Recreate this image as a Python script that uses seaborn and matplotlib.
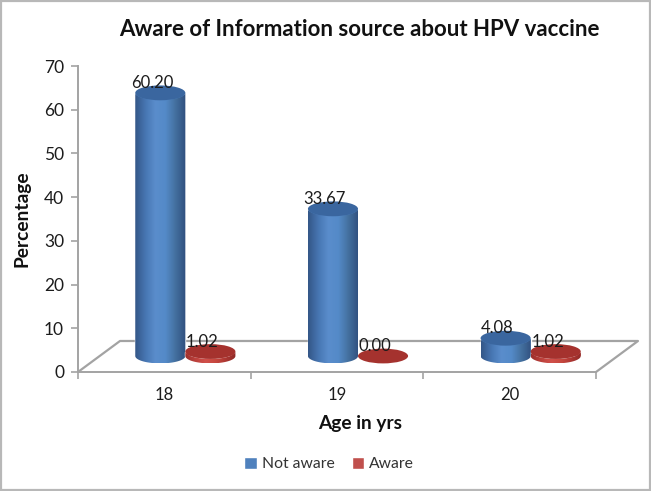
import numpy as np
import pandas as pd
import matplotlib
matplotlib.use("Agg")
import matplotlib.pyplot as plt
import seaborn as sns
from matplotlib.colors import LinearSegmentedColormap
from matplotlib.patches import Ellipse, Rectangle
from matplotlib.path import Path
from matplotlib.transforms import ScaledTranslation

# ===================== DATA =====================
ages = ["18", "19", "20"]
not_aware = [60.20, 33.67, 4.08]
aware = [1.02, 0.00, 1.02]
y_ticks = [0, 10, 20, 30, 40, 50, 60, 70]

# ===================== STYLE =====================
GRAY = "#a3a3a3"
TEXT = "#1c1c1c"
BLUE_RAMP = ["#345788", "#4776b2", "#5a8dcc", "#548ac8", "#44709f", "#30507f"]
RED_RAMP = ["#9c2f2c", "#bc413c", "#d0504b", "#c7483f", "#ad3733", "#8f2a27"]
BLUE_TOP = "#3a669f"
RED_TOP = "#a5322e"

sns.set_style("white")
plt.rcParams["font.family"] = ["Lato", "DejaVu Sans"]

fig = plt.figure(figsize=(6.51, 4.91), dpi=100)
ax = fig.add_axes([78 / 651, 1 - 372 / 491, 518 / 651, 306 / 491])

df = pd.DataFrame({
    "age": ages * 2,
    "pct": not_aware + aware,
    "status": ["Not aware"] * 3 + ["Aware"] * 3,
})

sns.barplot(data=df, x="age", y="pct", hue="status",
            palette=["#4f81bd", "#c0504d"], saturation=1, width=0.58, gap=0,
            errorbar=None, ax=ax)
ax.set_xlim(-0.5, 2.5)
ax.set_ylim(0, 70)

# floor of the fake 3D box, drawn behind the bars
FLOOR_DX, FLOOR_DY = 42 / 172.7, 31 / 4.37
ax.plot([-0.5, -0.5 + FLOOR_DX, 2.5 + FLOOR_DX, 2.5],
        [0, FLOOR_DY, FLOOR_DY, 0],
        color=GRAY, lw=1.6, clip_on=False, zorder=0.5)

# bars stand in the middle of the floor, so shift them by the depth
depth = ax.transData + ScaledTranslation(21 / 100, 16 / 100, fig.dpi_scale_trans)
RY = 7.4 / 4.37


def cylinder(patch, ramp, top_color, z):
    x0, w, h = patch.get_x(), patch.get_width(), patch.get_height()
    patch.set_transform(depth)
    patch.set_clip_on(False)
    patch.set_zorder(z)
    xc = x0 + w / 2
    ang = np.linspace(np.pi, 2 * np.pi, 40)
    low = np.c_[xc + w / 2 * np.cos(ang), RY * np.sin(ang)]
    high = np.c_[xc + w / 2 * np.cos(ang[::-1]), h + RY * np.sin(ang[::-1])]
    verts = np.vstack([low, high, low[:1]])
    body = Path(verts, closed=True)
    cmap = LinearSegmentedColormap.from_list("cyl", ramp)
    im = ax.imshow(np.linspace(0, 1, 64)[None, :], cmap=cmap, aspect="auto",
                   extent=[x0, x0 + w, -RY, h + RY], transform=depth,
                   zorder=z + 0.1)
    im.set_clip_path(body, transform=depth)
    ax.add_patch(Ellipse((xc, h), w, 2 * RY, transform=depth, fc=top_color,
                         ec="none", clip_on=False, zorder=z + 0.2))


for i, cont in enumerate(ax.containers):
    for j, patch in enumerate(cont.patches):
        ramp, top = (BLUE_RAMP, BLUE_TOP) if i == 0 else (RED_RAMP, RED_TOP)
        cylinder(patch, ramp, top, 3 + i + j * 0.01)
        xc = patch.get_x() + patch.get_width() / 2
        ax.annotate(f"{patch.get_height():.2f}", (xc, patch.get_height()),
                    xycoords=depth, xytext=(-8, 10), textcoords="offset pixels",
                    ha="center", va="center", fontsize=12, color=TEXT,
                    annotation_clip=False, zorder=10)

ax.set_xlim(-0.5, 2.5)
ax.set_ylim(0, 70)

# ===================== AXES =====================
sns.despine(ax=ax)
for side in ["left", "bottom"]:
    ax.spines[side].set_color(GRAY)
    ax.spines[side].set_linewidth(1.4)

ax.set_yticks(y_ticks)
ax.tick_params(axis="y", direction="out", left=True, length=5, width=1.2,
               color=GRAY, labelsize=12.5, labelcolor=TEXT, pad=5)
ax.set_xticks([-0.5, 0.5, 1.5, 2.5])
ax.set_xticklabels([])
ax.set_xticks([0, 1, 2], minor=True)
ax.set_xticklabels(ages, minor=True)
ax.tick_params(axis="x", which="major", direction="out", bottom=True, length=5,
               width=1.2, color=GRAY)
ax.tick_params(axis="x", which="minor", bottom=False, labelsize=12,
               labelcolor=TEXT, pad=9)

fig.text(359 / 651, 1 - 29 / 491, "Aware of Information source about HPV vaccine",
         ha="center", va="center", fontsize=16, fontweight="bold", color="#111111")
fig.text(22 / 651, 1 - 219 / 491, "Percentage", rotation=90, ha="center",
         va="center", fontsize=13.8, fontweight="bold", color="#111111")
fig.text(360 / 651, 1 - 423 / 491, "Age in yrs", ha="center", va="center",
         fontsize=13.8, fontweight="bold", color="#111111")
ax.set_xlabel("")
ax.set_ylabel("")

sns.move_legend(ax, "center", bbox_to_anchor=(329 / 651, 1 - 464 / 491),
                bbox_transform=fig.transFigure, ncol=2, frameon=False,
                title=None, fontsize=11.3, handlelength=0.8, handleheight=0.8,
                handletextpad=0.3, columnspacing=1.1, labelcolor="#333333")

fig.add_artist(Rectangle((1 / 651, 1 / 491), 649 / 651, 489 / 491,
                         transform=fig.transFigure, fill=False,
                         ec="#b8b8b8", lw=1.6))

fig.savefig("out.png", dpi=100)
